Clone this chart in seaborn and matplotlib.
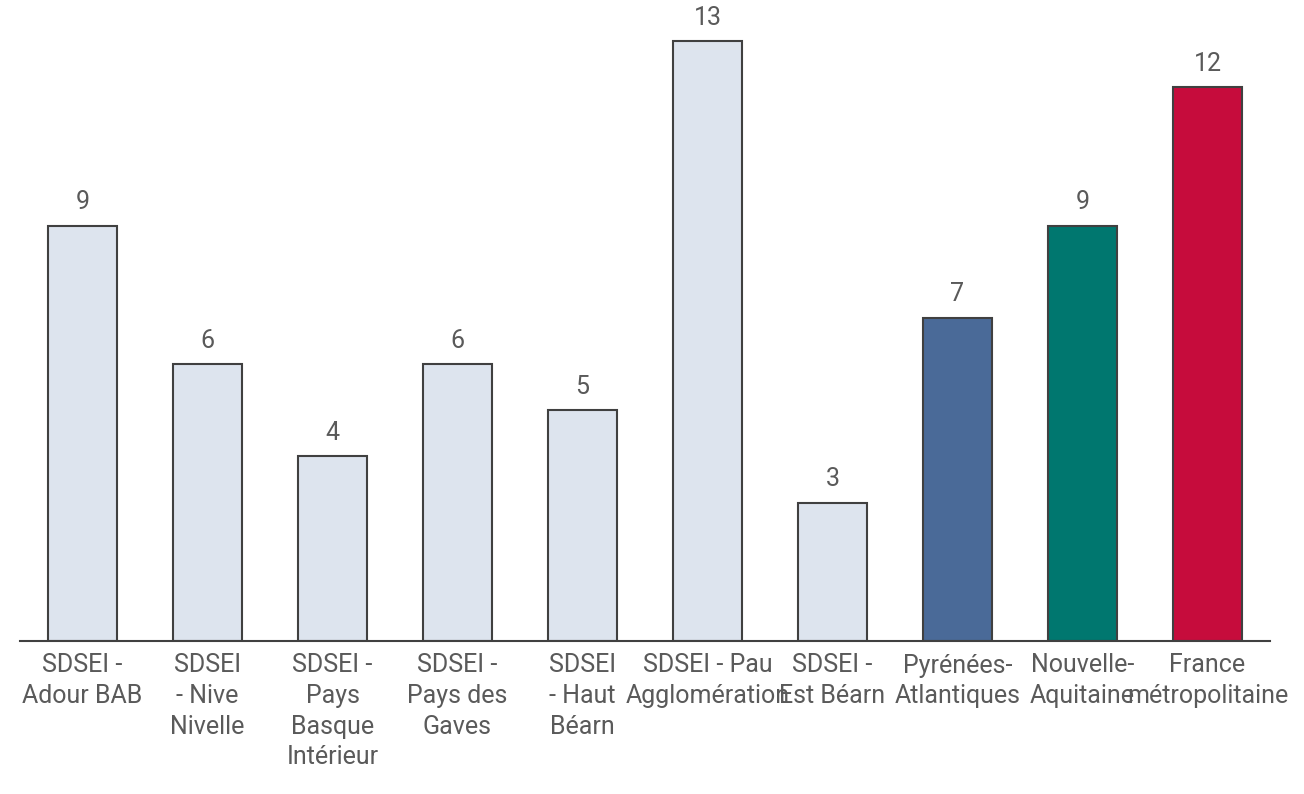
import matplotlib
matplotlib.use("Agg")
import matplotlib.pyplot as plt
from matplotlib import font_manager
import seaborn as sns
import pandas as pd

# Data
categories = [
    "SDSEI - Adour BAB",
    "SDSEI - Nive Nivelle",
    "SDSEI - Pays Basque Intérieur",
    "SDSEI - Pays des Gaves",
    "SDSEI - Haut Béarn",
    "SDSEI - Pau Agglomération",
    "SDSEI - Est Béarn",
    "Pyrénées-Atlantiques",
    "Nouvelle-Aquitaine",
    "France métropolitaine",
]
values = [9, 6, 4, 6, 5, 13, 3, 7, 9, 12]
tick_labels = [
    "SDSEI -\nAdour BAB",
    "SDSEI\n- Nive\nNivelle",
    "SDSEI -\nPays\nBasque\nIntérieur",
    "SDSEI -\nPays des\nGaves",
    "SDSEI\n- Haut\nBéarn",
    "SDSEI - Pau\nAgglomération",
    "SDSEI -\nEst Béarn",
    "Pyrénées-\nAtlantiques",
    "Nouvelle-\nAquitaine",
    "France\nmétropolitaine",
]
bar_colors = ["#dde4ee"] * 7 + ["#4a6a98", "#00776f", "#c60c3c"]

sns.set_theme(style="white")
available = {f.name for f in font_manager.fontManager.ttflist}
family = [f for f in ["Liberation Sans Narrow", "Roboto", "DejaVu Sans"] if f in available]
plt.rcParams["font.family"] = family

text_color = "#5a5a5a"

df = pd.DataFrame({"category": categories, "value": values})

fig = plt.figure(figsize=(13.04, 7.94), dpi=100)
ax = fig.add_axes([20 / 1304, 1 - 641 / 794, 1250 / 1304, 641 / 794])

sns.barplot(
    data=df, x="category", y="value", hue="category",
    palette=bar_colors, legend=False, width=0.55, saturation=1,
    edgecolor="#404040", linewidth=1.5, ax=ax,
)

for i, v in enumerate(values):
    ax.text(i, v + 0.25, str(v), ha="center", va="bottom",
            fontsize=18, color=text_color)

ax.set_xlim(-0.5, 9.5)
ax.set_ylim(0, 641 / 46.15)
ax.set_xticks(range(len(categories)))
ax.set_xticklabels(tick_labels, fontsize=18, color=text_color, linespacing=1.35)
ax.tick_params(axis="x", length=0, pad=9)
ax.set_yticks([])
ax.set_xlabel("")
ax.set_ylabel("")
for side in ["top", "right", "left"]:
    ax.spines[side].set_visible(False)
ax.spines["bottom"].set_color("#404040")
ax.spines["bottom"].set_linewidth(1.5)

fig.savefig("out.png", dpi=100)
